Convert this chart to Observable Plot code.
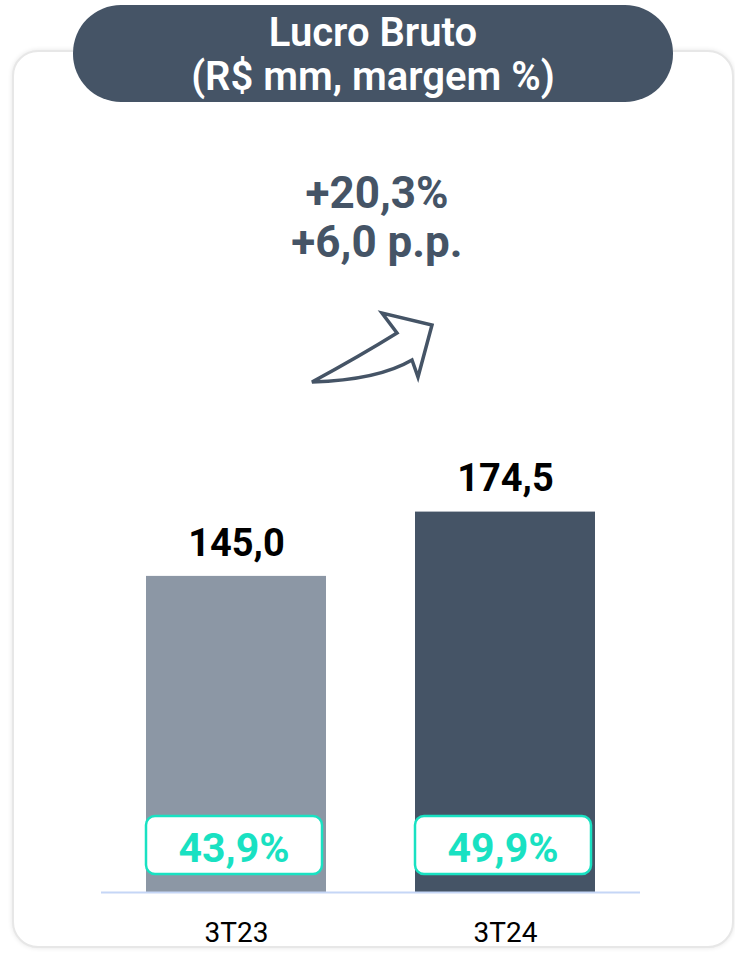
<!DOCTYPE html>
<html>
<head>
<meta charset="utf-8">
<script src="https://cdn.jsdelivr.net/npm/d3@7"></script>
<script src="https://cdn.jsdelivr.net/npm/@observablehq/plot@0.6"></script>
<style>
  html, body { margin: 0; padding: 0; background: #fff; }
  #wrap { position: relative; width: 735px; height: 953px; overflow: hidden; font-family: Roboto, "Liberation Sans", sans-serif; }
  #card { position: absolute; left: 12px; top: 50px; width: 722px; height: 898px; box-sizing: border-box;
          border: 2px solid #e7e7e7; border-radius: 26px; box-shadow: 0 0 5px rgba(0,0,0,0.10); background: #fff; }
  #pill { position: absolute; left: 73px; top: 5px; width: 600px; height: 97px; border-radius: 48px; background: #455466;
          color: #fff; text-align: center; font-weight: 600; font-size: 40px; line-height: 44px; box-sizing: border-box; padding-top: 6px; }
  #delta { position: absolute; left: 227px; top: 169px; width: 300px; text-align: center; color: #455466;
           font-weight: 700; font-size: 44px; line-height: 49px; }
  #plot { position: absolute; left: 0; top: 0; }
  #arrow { position: absolute; left: 0; top: 0; }
</style>
</head>
<body>
<div id="wrap">
  <div id="card"></div>
  <div id="plot"></div>
  <svg id="arrow" width="735" height="953">
    <path d="M312,382 Q360,356 397,333 L382,313 L432,325 L418,377 L412,360 Q378,380 312,382 Z"
          fill="#fff" stroke="#455466" stroke-width="3.5" stroke-linejoin="miter"/>
  </svg>
  <div id="pill">Lucro Bruto<br>(R$ mm, margem %)</div>
  <div id="delta">+20,3%<br>+6,0 p.p.</div>
</div>
<script>
// ---- data ----
const categories = ["3T23", "3T24"];
const values = [145.0, 174.5];
const margins = ["43,9%", "49,9%"];
const barColors = ["#8c97a5", "#455466"];

const data = categories.map((c, i) => ({cat: c, value: values[i], margin: margins[i], color: barColors[i]}));
const fmt = v => v.toFixed(1).replace(".", ",");

const yMax = 400;
const marginTop = 20, marginBottom = 61;
const H = 953;
const pxPerUnit = (H - marginTop - marginBottom) / yMax;
const teal = "#19e1c2";

const chart = Plot.plot({
  width: 735,
  height: H,
  marginLeft: 101,
  marginRight: 95,
  marginTop,
  marginBottom,
  style: {fontFamily: "Roboto, 'Liberation Sans', sans-serif", background: "transparent", color: "#000", overflow: "visible"},
  x: {domain: categories, paddingInner: 0.331, paddingOuter: 0.167, axis: null},
  y: {domain: [0, yMax], axis: null},
  color: {type: "identity"},
  marks: [
    Plot.barY(data, {x: "cat", y: "value", fill: "color"}),
    Plot.ruleY([0], {stroke: "#c5d6f6", strokeWidth: 2}),
    Plot.text(data, {x: "cat", y: "value", text: d => fmt(d.value), dy: -33, lineAnchor: "middle",
                     fontSize: 38, fontWeight: "bold", fill: "#000"}),
    Plot.barY(data, {x: "cat", y1: () => 18 / pxPerUnit, y2: () => 76 / pxPerUnit, rx: 9,
                     fill: "#fff", stroke: teal, strokeWidth: 2.5, insetLeft: 0, insetRight: 4}),
    Plot.text(data, {x: "cat", y: () => 0, text: "margin", dy: -44, dx: -2.5, lineAnchor: "middle",
                     fontSize: 41, fontWeight: "bold", fill: teal}),
    Plot.axisX({tickSize: 0, tickPadding: 30, fontSize: 28, fill: "#000", label: null})
  ]
});
document.getElementById("plot").appendChild(chart);
</script>
</body>
</html>
